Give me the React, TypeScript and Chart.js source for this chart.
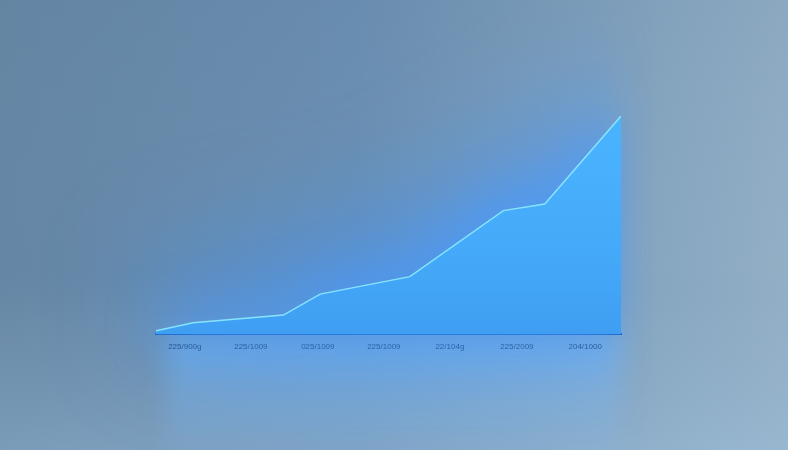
import React, { useEffect, useRef } from "react";
import { Chart, registerables } from "chart.js";

Chart.register(...registerables);

// Data (x on a 0..100 time axis, y on a 0..100 value axis)
const pointX = [0, 8.0, 27.4, 35.3, 54.6, 74.7, 83.6, 100];
const pointY = [1.5, 5.2, 8.7, 18.3, 26.3, 56.6, 59.6, 100];
const tickPositions = [6.2, 20.4, 34.8, 49.0, 63.2, 77.6, 92.3];
const tickLabels = ["225/900g", "225/1009", "025/1009", "225/1009", "22/104g", "225/2009", "204/1000"];

const W = 788;
const H = 450;

function areaPath(ctx: any, pts: any[], bottom: number, dy: number) {
  ctx.beginPath();
  ctx.moveTo(pts[0].x, pts[0].y + dy);
  for (let i = 1; i < pts.length; i++) ctx.lineTo(pts[i].x, pts[i].y + dy);
  ctx.lineTo(pts[pts.length - 1].x, bottom);
  ctx.lineTo(pts[0].x, bottom);
  ctx.closePath();
}

const backgroundPlugin = {
  id: "bg",
  beforeDraw(chart: any) {
    const { ctx } = chart;
    const area = chart.chartArea;
    ctx.save();
    const g = ctx.createLinearGradient(0, 0, W, 0);
    g.addColorStop(0, "#6586a4");
    g.addColorStop(0.45, "#6a8fb2");
    g.addColorStop(0.8, "#84a4bf");
    g.addColorStop(1, "#93afc6");
    ctx.fillStyle = g;
    ctx.fillRect(0, 0, W, H);
    const v = ctx.createLinearGradient(0, 0, 0, H);
    v.addColorStop(0, "rgba(90,120,150,0.12)");
    v.addColorStop(0.6, "rgba(120,150,180,0.0)");
    v.addColorStop(0.72, "rgba(150,180,205,0.12)");
    v.addColorStop(1, "rgba(165,198,225,0.35)");
    ctx.fillStyle = v;
    ctx.fillRect(0, 0, W, H);
    if (area) {
      const r = ctx.createLinearGradient(0, area.bottom, 0, H);
      r.addColorStop(0, "rgba(110,185,255,0.6)");
      r.addColorStop(0.5, "rgba(120,185,250,0.35)");
      r.addColorStop(1, "rgba(130,185,240,0.15)");
      ctx.fillStyle = r;
      ctx.filter = "blur(12px)";
      ctx.fillRect(area.left + 10, area.bottom, area.right - area.left - 10, H - area.bottom);
      ctx.filter = "none";
    }
    ctx.restore();
  },
  beforeDatasetsDraw(chart: any) {
    const { ctx } = chart;
    const area = chart.chartArea;
    const pts = chart.getDatasetMeta(0).data;
    if (!pts || !pts.length) return;
    const off = document.createElement("canvas");
    off.width = W;
    off.height = H;
    const o: any = off.getContext("2d");
    areaPath(o, pts, area.bottom, -60);
    o.filter = "blur(55px)";
    o.fillStyle = "rgba(65,150,255,0.6)";
    o.fill();
    areaPath(o, pts, area.bottom, -15);
    o.filter = "blur(25px)";
    o.fillStyle = "rgba(70,155,255,0.6)";
    o.fill();
    o.filter = "none";
    o.globalCompositeOperation = "destination-in";
    const m = o.createLinearGradient(area.right - 20, 0, area.right + 35, 0);
    m.addColorStop(0, "rgba(0,0,0,1)");
    m.addColorStop(1, "rgba(0,0,0,0)");
    o.fillStyle = m;
    o.fillRect(0, 0, W, H);
    ctx.save();
    ctx.drawImage(off, 0, 0);
    ctx.restore();
  },
};

export default function App() {
  const ref = useRef<HTMLCanvasElement | null>(null);

  useEffect(() => {
    document.body.style.margin = "0";
    const canvas = ref.current;
    if (!canvas) return;
    const chart = new Chart(canvas, {
      type: "line",
      data: {
        datasets: [
          {
            data: pointX.map((x, i) => ({ x, y: pointY[i] })),
            borderColor: "#86e4ff",
            borderWidth: 1.5,
            pointRadius: 0,
            tension: 0,
            fill: "origin",
            backgroundColor: (c: any) => {
              const a = c.chart.chartArea;
              if (!a) return "#45a8f5";
              const g = c.chart.ctx.createLinearGradient(0, a.top, 0, a.bottom);
              g.addColorStop(0, "#4ab4ff");
              g.addColorStop(0.6, "#45aaf9");
              g.addColorStop(1, "#3f9ef2");
              return g;
            },
          },
        ],
      },
      options: {
        responsive: false,
        animation: false,
        layout: { padding: { left: 156, right: 167, top: 116, bottom: 96 } },
        plugins: { legend: { display: false }, tooltip: { enabled: false } },
        scales: {
          x: {
            type: "linear",
            min: 0,
            max: 100,
            grid: { display: false, drawTicks: false },
            border: { display: true, color: "#1a5fc2", width: 2 },
            afterBuildTicks: (s: any) => {
              s.ticks = tickPositions.map((v) => ({ value: v }));
            },
            afterFit: (s: any) => {
              s.height = 20;
            },
            ticks: {
              autoSkip: false,
              maxRotation: 0,
              padding: 8,
              color: "#1f4273",
              font: { family: "'Liberation Sans Narrow', 'Liberation Sans', sans-serif", size: 8 },
              callback: (_v: any, i: number) => tickLabels[i],
            },
          },
          y: { display: false, min: 0, max: 100 },
        },
      },
      plugins: [backgroundPlugin],
    } as any);
    return () => chart.destroy();
  }, []);

  return (
    <div style={{ position: "absolute", left: 0, top: 0, width: W, height: H }}>
      <canvas ref={ref} width={W} height={H} />
    </div>
  );
}
